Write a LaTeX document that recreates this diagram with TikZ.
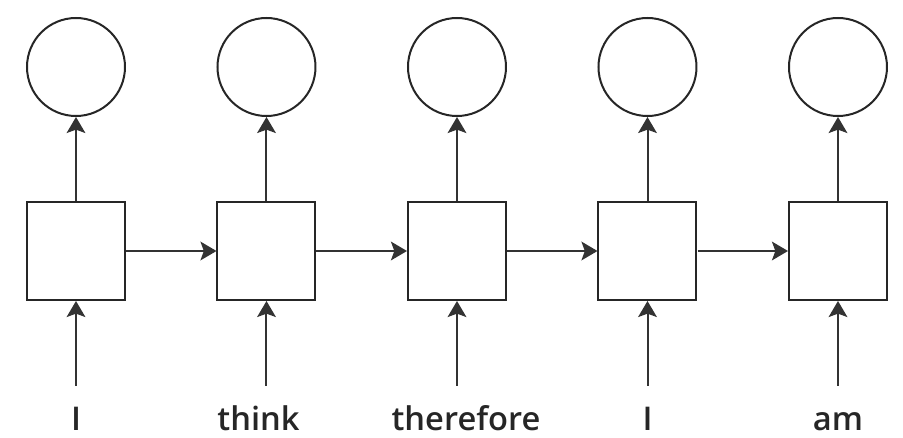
\documentclass[tikz,border=0pt]{standalone}
\usepackage{fontspec}
\setmainfont{Open Sans}
\newfontfamily\wordfont{Open Sans Semibold}
\usetikzlibrary{positioning, arrows.meta, calc}
\tikzstyle{cell} = [rectangle, minimum size=73.5pt, inner sep=0pt, draw=black!85, line width=1.5pt, fill=white]
\tikzstyle{output} = [circle, minimum size=73.5pt, inner sep=0pt, draw=black!85, line width=1.5pt, fill=white]
\tikzstyle{word} = [text=black!85, font=\wordfont\fontsize{24.5}{28}\selectfont, text height=33.5pt, text depth=0pt, inner xsep=0pt, inner ysep=0pt]
\tikzstyle{myarrow} = [-{Stealth[length=12pt, width=14pt, inset=2.5pt]}, line width=1.5pt, draw=black!80]

\begin{document}
\begin{tikzpicture}
\matrix[row sep={138pt,between origins}, column sep={142.875pt,between origins}]{
 \node(circ1)[output]{}; &\node(circ2)[output]{}; &\node(circ3)[output]{}; &\node(circ4)[output]{}; &\node(circ5)[output]{};\\
 \node(box1)[cell]{}; &\node(box2)[cell]{}; &\node(box3)[cell]{}; &\node(box4)[cell]{}; &\node(box5)[cell]{};\\
};
\useasboundingbox ($(box1.west |- circ1.north)+(-19.5pt,12.75pt)$) rectangle ++(677.25pt,-328.5pt);
% input words
\node(word1)[word, below=63.5pt of box1]{I};
\node(word2)[word, below=63.5pt of box2, xshift=-6pt]{think};
\node(word3)[word, below=63.5pt of box3, xshift=6.75pt]{therefore};
\node(word4)[word, below=63.5pt of box4]{I};
\node(word5)[word, below=63.5pt of box5]{am};
% inputs
\draw [myarrow] (word1) -- (box1);
\draw [myarrow] (word2.north -| box2) -- (box2);
\draw [myarrow] (word3.north -| box3) -- (box3);
\draw [myarrow] (word4) -- (box4);
\draw [myarrow] (word5) -- (box5);
% hidden state
\draw [myarrow] (box1) -- (box2);
\draw [myarrow] (box2) -- (box3);
\draw [myarrow] (box3) -- (box4);
\draw [myarrow] (box4) -- (box5);
% outputs
\draw [myarrow] (box1) -- (circ1);
\draw [myarrow] (box2) -- (circ2);
\draw [myarrow] (box3) -- (circ3);
\draw [myarrow] (box4) -- (circ4);
\draw [myarrow] (box5) -- (circ5);
\end{tikzpicture}
\end{document}
